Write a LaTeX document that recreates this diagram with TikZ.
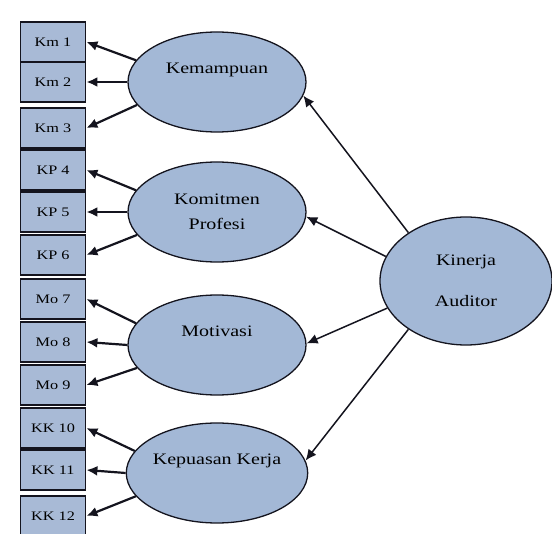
\documentclass[tikz,border=0pt]{standalone}
\usepackage{fontspec}
\setmainfont{Liberation Serif}
\usetikzlibrary{shapes.geometric,arrows.meta}
\definecolor{latfill}{RGB}{163,184,214}
\definecolor{boxfill}{RGB}{168,186,214}
\definecolor{inkline}{RGB}{20,20,30}
\newcommand{\wtext}[1]{\scalebox{1.25}[1]{#1}}
\tikzset{
  ind/.style={draw=inkline,line width=1.8pt,fill=boxfill,minimum width=65pt,
    minimum height=40pt,inner sep=0pt,font=\fontsize{13}{15}\selectfont},
  lat/.style={ellipse,draw=inkline,line width=1.3pt,fill=latfill,minimum width=178pt,
    minimum height=100pt,inner sep=0pt,align=center,font=\fontsize{16}{19}\selectfont},
  load/.style={->,line width=2.2pt,draw=inkline},
  regr/.style={->,line width=1.5pt,draw=inkline}
}
\begin{document}
\begin{tikzpicture}[x=1pt,y=-1pt,>={Latex[length=11pt,width=10pt]}]
    \useasboundingbox (0,0) rectangle (552,534);
    % indicators
    \node[ind] (Km1) at (53,42) {\wtext{Km 1}};
    \node[ind] (Km2) at (53,82) {\wtext{Km 2}};
    \node[ind] (Km3) at (53,128) {\wtext{Km 3}};
    \node[ind] (KP4) at (53,170) {\wtext{KP 4}};
    \node[ind] (KP5) at (53,212) {\wtext{KP 5}};
    \node[ind] (KP6) at (53,255) {\wtext{KP 6}};
    \node[ind] (Mo7) at (53,299) {\wtext{Mo 7}};
    \node[ind] (Mo8) at (53,342) {\wtext{Mo 8}};
    \node[ind] (Mo9) at (53,385) {\wtext{Mo 9}};
    \node[ind] (KK10) at (53,428) {\wtext{KK 10}};
    \node[ind] (KK11) at (53,470) {\wtext{KK 11}};
    \node[ind] (KK12) at (53,516) {\wtext{KK 12}};
    % latent variables
    \node[lat] (Kem) at (217,82) {\wtext{Kemampuan}\\[8pt]};
    \node[lat] (Kom) at (217,212) {\wtext{Komitmen}\\[6pt]\wtext{Profesi}};
    \node[lat] (Mot) at (217,345) {\wtext{Motivasi}\\[8pt]};
    \node[lat] (Kep) at (217,473) {\wtext{Kepuasan Kerja}\\[8pt]};
    \node[lat,minimum width=172pt,minimum height=128pt] (KA) at (466,281)
      {\wtext{Kinerja}\\[22pt]\wtext{Auditor}};
    % loadings
    \draw[load] (Kem.165) -- (Km1.east);
    \draw[load] (Kem.180) -- (Km2.east);
    \draw[load] (Kem.196) -- (Km3.east);
    \draw[load] (Kom.165) -- (KP4.east);
    \draw[load] (Kom.180) -- (KP5.east);
    \draw[load] (Kom.196) -- (KP6.east);
    \draw[load] (Mot.165) -- (Mo7.east);
    \draw[load] (Mot.180) -- (Mo8.east);
    \draw[load] (Mot.196) -- (Mo9.east);
    \draw[load] (Kep.165) -- (KK10.east);
    \draw[load] (Kep.180) -- (KK11.east);
    \draw[load] (Kep.196) -- (KK12.east);
    % Kinerja Auditor
    \draw[regr] (KA.140) -- (Kem.-9);
    \draw[regr] (KA.163) -- (Kom.-3);
    \draw[regr] (KA.199) -- (Mot.1);
    \draw[regr] (KA.220) -- (Kep.8);
\end{tikzpicture}
\end{document}
